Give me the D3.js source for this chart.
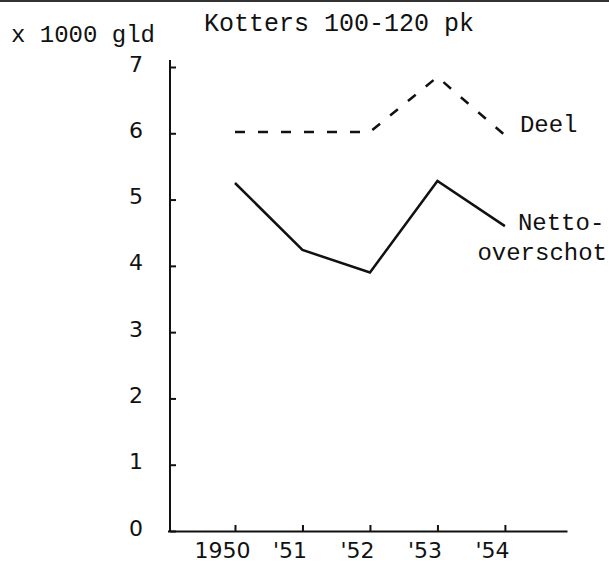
<!DOCTYPE html>
<html>
<head>
<meta charset="utf-8">
<script src="https://cdn.jsdelivr.net/npm/d3@7"></script>
<style>
  body { margin: 0; background: #fff; }
  svg { display: block; }
  .mono { font-family: "Liberation Mono", "DejaVu Sans Mono", monospace; font-size: 24px; fill: #111; }
  .title { font-size: 25px; }
  .axis text { font-family: "DejaVu Sans", sans-serif; font-size: 22px; fill: #111; }
  .axis path, .axis line { stroke: #111; stroke-width: 2; }
</style>
</head>
<body>
<svg width="609" height="566"></svg>
<script>
const years = [1950, 1951, 1952, 1953, 1954]
const yearLabels = ["1950", "'51", "'52", "'53", "'54"]
const deel = [6.02, 6.02, 6.02, 6.85, 5.97]
const netto = [5.25, 4.24, 3.9, 5.28, 4.6]
const yTicks = [0, 1, 2, 3, 4, 5, 6, 7]

const svg = d3.select("svg")

// scan border at the top
svg.append("line")
  .attr("x1", 0).attr("x2", 609)
  .attr("y1", 1).attr("y2", 1)
  .attr("stroke", "#333")
  .attr("stroke-width", 2)

const x = d3.scaleLinear()
  .domain([1949, 1954.92])
  .range([167.5, 567])

const y = d3.scaleLinear()
  .domain([0, 7])
  .range([531, 67])

// y axis, ticks pointing inward
svg.append("g")
  .attr("class", "axis")
  .attr("transform", "translate(170,0)")
  .call(d3.axisLeft(y).tickValues(yTicks).tickFormat(d3.format("d"))
    .tickSize(-6).tickSizeOuter(0).tickPadding(27))
  .call(g => g.select(".domain").attr("d", "M0," + (y(7) - 7) + "V" + y(0)))
  .selectAll("text")
  .attr("y", -3)

// x axis, ticks pointing up
svg.append("g")
  .attr("class", "axis")
  .attr("transform", "translate(0," + y(0) + ")")
  .call(d3.axisBottom(x).tickValues(years).tickFormat((d, i) => yearLabels[i])
    .tickSize(-6).tickSizeOuter(0).tickPadding(11))
  .selectAll("text")
  .attr("dx", -13)

const line = d3.line()
  .x((d, i) => x(years[i]))
  .y(d => y(d))

svg.append("path")
  .datum(deel)
  .attr("d", line)
  .attr("fill", "none")
  .attr("stroke", "#111")
  .attr("stroke-width", 2.5)
  .attr("stroke-dasharray", "10,13")

svg.append("path")
  .datum(netto)
  .attr("d", line)
  .attr("fill", "none")
  .attr("stroke", "#111")
  .attr("stroke-width", 2.5)

// texts
svg.append("text").attr("class", "mono title")
  .attr("x", 204).attr("y", 31)
  .text("Kotters 100-120 pk")

svg.append("text").attr("class", "mono")
  .attr("x", 11).attr("y", 42)
  .text("x 1000 gld")

svg.append("text").attr("class", "mono")
  .attr("x", x(1954) + 15).attr("y", 132)
  .text("Deel")

svg.append("text").attr("class", "mono")
  .attr("x", x(1954) + 13).attr("y", 230)
  .text("Netto-")

svg.append("text").attr("class", "mono")
  .attr("x", 607).attr("y", 260)
  .attr("text-anchor", "end")
  .text("overschot")
</script>
</body>
</html>
